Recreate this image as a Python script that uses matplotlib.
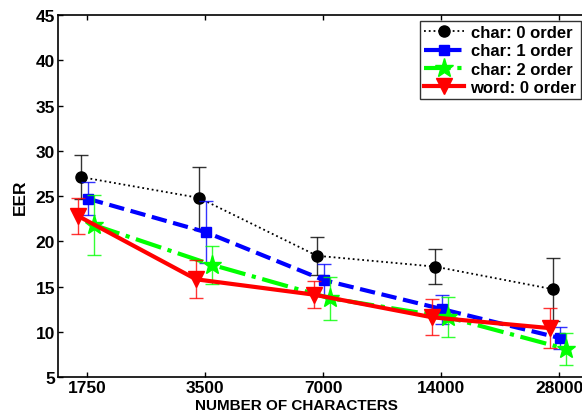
import numpy as np
import matplotlib.pyplot as plt

plt.rcParams["font.family"] = ["Liberation Sans", "DejaVu Sans"]
plt.rcParams["font.weight"] = "bold"

# -----------------------------
# DATA
# -----------------------------
n_chars = [1750, 3500, 7000, 14000, 28000]
tick_labels = ["1750", "3500", "7000", "14000", "28000"]

char0_eer = [27.1, 24.8, 18.4, 17.2, 14.7]
char0_err = [2.4, 3.4, 2.1, 1.9, 3.5]

char1_eer = [24.7, 21.0, 15.7, 12.5, 9.3]
char1_err = [1.8, 3.4, 1.8, 1.6, 1.2]

char2_eer = [21.8, 17.4, 13.7, 11.6, 8.1]
char2_err = [3.3, 2.1, 2.4, 2.2, 1.8]

word0_eer = [22.8, 15.8, 14.1, 11.6, 10.4]
word0_err = [2.0, 2.1, 1.5, 2.0, 2.2]

# -----------------------------
# PLOT
# -----------------------------
fig = plt.figure(figsize=(5.82, 4.14), dpi=100)
ax = fig.add_axes([0.0997, 0.087, 0.9107, 0.874])

x = np.array(n_chars, dtype=float)

series = [
    ("char: 0 order", char0_eer, char0_err, -6, "black", ":", 1.3, "o", 8),
    ("char: 1 order", char1_eer, char1_err, 1, "#0000ff", "--", 3, "s", 7),
    ("char: 2 order", char2_eer, char2_err, 7, "#00ff00", "-.", 3, "*", 14),
    ("word: 0 order", word0_eer, word0_err, -9, "red", "-", 3, "v", 11),
]

for label, y, err, shift, color, ls, lw, marker, ms in series:
    xs = x * 2 ** (shift / 118.0)
    ax.errorbar(xs, y, yerr=err, fmt="none", ecolor=color, elinewidth=1,
                capsize=5, capthick=1, alpha=0.8)
    ax.plot(xs, y, color=color, linestyle=ls, linewidth=lw, marker=marker,
            markersize=ms, markerfacecolor=color, markeredgecolor=color,
            label=label)

ax.set_xscale("log")
ax.set_xlim(1750 * 2 ** (-29 / 118.0), 28000 * 2 ** (29 / 118.0))
ax.set_ylim(5, 45)
ax.set_xticks(n_chars)
ax.set_xticklabels(tick_labels)
ax.minorticks_off()
ax.set_yticks(range(5, 46, 5))
ax.tick_params(direction="in", top=True, right=True, labelsize=12.5, width=1,
               pad=2)
for s in ax.spines.values():
    s.set_linewidth(1.2)

ax.set_xlabel("NUMBER OF CHARACTERS", fontsize=11, fontweight="bold")
# the x label sits just above the figure's bottom edge
ax.xaxis.set_label_coords(0.45, -0.057)
ax.set_ylabel("EER", fontsize=12.5, fontweight="bold", labelpad=6)

leg = ax.legend(loc="upper right", bbox_to_anchor=(0.998, 0.947),
                bbox_transform=fig.transFigure, fontsize=12, frameon=True,
                fancybox=False, edgecolor="black", handlelength=2.4,
                borderpad=0.25, labelspacing=0.2, handletextpad=0.4,
                borderaxespad=0)
leg.get_frame().set_linewidth(1)

plt.savefig("out.png", dpi=100)
